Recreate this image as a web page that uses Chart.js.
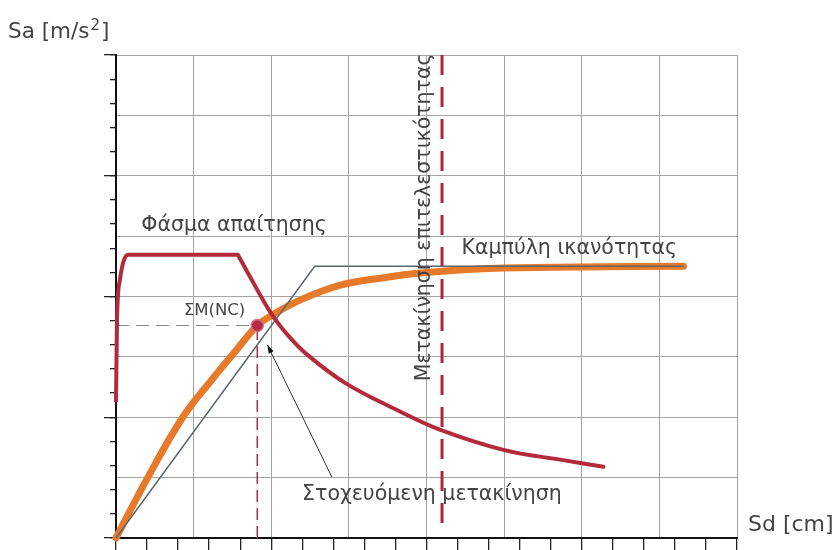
<!DOCTYPE html>
<html>
<head>
<meta charset="utf-8">
<script src="https://cdn.jsdelivr.net/npm/chart.js@4"></script>
<style>
  html, body { margin: 0; padding: 0; background: #fff; }
  canvas { display: block; }
</style>
</head>
<body>
<canvas id="chart" width="835" height="550"></canvas>
<script>
// demand spectrum (Φάσμα απαίτησης), Sd / Sa in grid units
const demandSd = [0, 0.013, 0.05, 0.155, 1.57, 1.73, 1.89, 2.02, 2.20, 2.46, 2.95, 3.62, 4.18, 4.99, 5.76, 6.28];
const demandSa = [2.25, 3.61, 4.27, 4.69, 4.69, 4.32, 3.95, 3.68, 3.38, 3.04, 2.57, 2.12, 1.79, 1.46, 1.29, 1.18];
const plateauEnd = 4; // index where the plateau stops and the curve falls

// capacity curve (Καμπύλη ικανότητας)
const capacitySd = [0, 0.40, 0.86, 1.24, 1.53, 1.82, 2.01, 2.37, 2.89, 3.49, 3.92, 4.43, 4.99, 5.99, 7.31];
const capacitySa = [0, 0.98, 2.00, 2.63, 3.08, 3.52, 3.69, 3.94, 4.19, 4.32, 4.39, 4.44, 4.47, 4.49, 4.50];

// bilinear idealisation
const bilinearSd = [0, 2.56, 7.31];
const bilinearSa = [0, 4.50, 4.50];

// target point ΣΜ(NC)
const targetSd = 1.82, targetSa = 3.52;

// performance displacement (vertical dashed)
const perfSd = 4.20, perfSa = [0.25, 8];

// arrow from label to target
const arrowSd = [2.78, 1.95], arrowSa = [1.01, 3.20];

// text notes [text, Sd, Sa]
const notes = [
  ["Φάσμα απαίτησης", 1.52, 5.18],
  ["Καμπύλη ικανότητας", 5.84, 4.80],
  ["Στοχευόμενη μετακίνηση", 4.07, 0.71],
];
const pointLabel = ["ΣΜ(NC)", 1.27, 3.77];
const perfLabel = ["Μετακίνηση επιτελεστικότητας", 3.98, 5.31];

const pts = (xs, ys) => xs.map((v, i) => ({ x: v, y: ys[i] }));
const font = '"DejaVu Sans", Verdana, sans-serif';

const notesPlugin = {
    id: "notes",
    afterDatasetsDraw(chart) {
        const { ctx, scales: { x, y }, chartArea } = chart;
        ctx.save();
        ctx.fillStyle = "#444";
        ctx.textAlign = "center"; ctx.textBaseline = "middle";
        ctx.font = "20.5px " + font;
        notes.forEach(n => ctx.fillText(n[0], x.getPixelForValue(n[1]), y.getPixelForValue(n[2])));
        ctx.font = "16.5px " + font;
        ctx.fillText(pointLabel[0], x.getPixelForValue(pointLabel[1]), y.getPixelForValue(pointLabel[2]));

        // rotated label
        ctx.save();
        ctx.font = "20.5px " + font;
        ctx.translate(x.getPixelForValue(perfLabel[1]), y.getPixelForValue(perfLabel[2]));
        ctx.rotate(-Math.PI / 2);
        ctx.fillText(perfLabel[0], 0, 0);
        ctx.restore();

        // arrow head
        const x0 = x.getPixelForValue(arrowSd[0]), y0 = y.getPixelForValue(arrowSa[0]);
        const x1 = x.getPixelForValue(arrowSd[1]), y1 = y.getPixelForValue(arrowSa[1]);
        const a = Math.atan2(y1 - y0, x1 - x0);
        ctx.fillStyle = "#111";
        ctx.beginPath();
        ctx.moveTo(x1, y1);
        ctx.lineTo(x1 - 9 * Math.cos(a - 0.3), y1 - 9 * Math.sin(a - 0.3));
        ctx.lineTo(x1 - 9 * Math.cos(a + 0.3), y1 - 9 * Math.sin(a + 0.3));
        ctx.closePath(); ctx.fill();

        // axis titles
        ctx.fillStyle = "#444";
        ctx.textAlign = "left";
        ctx.font = "21.5px " + font;
        let tx = chartArea.left - 108, ty = chartArea.top - 23;
        ctx.fillText("Sa [m/s", tx, ty);
        tx += ctx.measureText("Sa [m/s").width;
        ctx.font = "15px " + font;
        ctx.fillText("2", tx + 1, ty - 6);
        tx += ctx.measureText("2").width + 2;
        ctx.font = "21.5px " + font;
        ctx.fillText("]", tx, ty);
        ctx.font = "22px " + font;
        ctx.fillText("Sd [cm]", chartArea.right + 11, chartArea.bottom - 13);
        ctx.restore();
    }
};

const flat = s => { if (s.isHorizontal()) s.height = 0; else s.width = 0; };
const tickAxis = (pos, step, len) => ({
    type: "linear", position: pos, min: 0, max: 8, afterFit: flat,
    ticks: { display: false, stepSize: step, maxTicksLimit: 100 },
    grid: { drawOnChartArea: false, drawTicks: true, tickLength: len, color: "#222", lineWidth: 1.3 },
    border: { display: false }
});
const gridAxis = pos => ({
    type: "linear", position: pos, min: 0, max: 8, afterFit: flat,
    ticks: { display: false, stepSize: 1 },
    grid: { color: "#a4a4a4", lineWidth: 1, drawTicks: false },
    border: { display: true, color: "#111", width: 2 }
});

new Chart(document.getElementById("chart"), {
    type: "line",
    data: {
        datasets: [
            { data: [{ x: targetSd, y: targetSa }], showLine: false, pointRadius: 6, pointBackgroundColor: "#b8294a",
              pointBorderColor: "#d9707f", pointBorderWidth: 1.5, order: 0, clip: false },
            { data: pts(demandSd.slice(0, plateauEnd + 1), demandSa.slice(0, plateauEnd + 1)), borderColor: "#b32a3b",
              borderWidth: 4, pointRadius: 0, cubicInterpolationMode: "monotone", order: 1, clip: false },
            { data: pts(demandSd.slice(plateauEnd), demandSa.slice(plateauEnd)), borderColor: "#b32a3b",
              borderWidth: 4, pointRadius: 0, tension: 0.4, borderCapStyle: "round", order: 1, clip: false },
            { data: pts(arrowSd, arrowSa), borderColor: "#333", borderWidth: 1, pointRadius: 0, order: 2 },
            { data: pts(bilinearSd, bilinearSa), borderColor: "#5b676c", borderWidth: 1.5, pointRadius: 0, order: 3, clip: false },
            { data: pts(capacitySd, capacitySa), borderColor: "#e7792b", borderWidth: 7, pointRadius: 0,
              tension: 0.4, borderCapStyle: "round", order: 4, clip: false },
            { data: [{ x: 0, y: targetSa }, { x: targetSd, y: targetSa }], borderColor: "#8a8a8a", borderWidth: 1.2,
              borderDash: [13, 7], pointRadius: 0, order: 5 },
            { data: [{ x: targetSd, y: 0 }, { x: targetSd, y: targetSa }], borderColor: "#a3304a", borderWidth: 1.5,
              borderDash: [12, 6], pointRadius: 0, order: 5 },
            { data: [{ x: perfSd, y: perfSa[0] }, { x: perfSd, y: perfSa[1] }], borderColor: "#a8283c", borderWidth: 3,
              borderDash: [20, 12], pointRadius: 0, order: 6 }
        ]
    },
    options: {
        responsive: false,
        animation: false,
        layout: { padding: { left: 116, top: 55, right: 98, bottom: 12 } },
        plugins: { legend: { display: false }, tooltip: { enabled: false } },
        scales: {
            x: gridAxis("bottom"),
            xMinor: tickAxis("bottom", 0.4, 14),
            y: gridAxis("left"),
            yMinor: tickAxis("left", 0.4, 6),
            yMajor: tickAxis("left", 2, 12)
        }
    },
    plugins: [notesPlugin]
});
</script>
</body>
</html>
